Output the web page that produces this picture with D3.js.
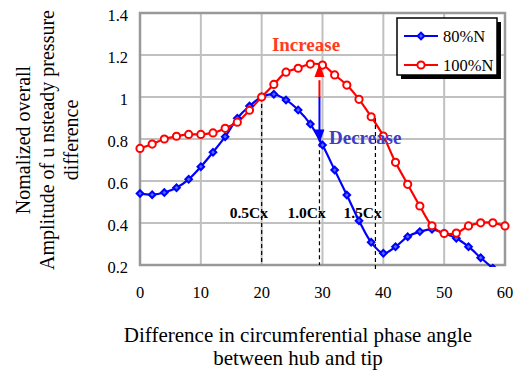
<!DOCTYPE html>
<html>
<head>
<meta charset="utf-8">
<script src="https://cdn.jsdelivr.net/npm/d3@7"></script>
<style>
  body { margin: 0; background: #fff; }
  svg text { font-family: 'Liberation Serif', 'Times New Roman', 'DejaVu Serif', serif; }
</style>
</head>
<body>
<script>
// phase angle difference (x) and the two speed lines
const angles = [0, 2, 4, 6, 8, 10, 12, 14, 16, 18, 20, 22, 24, 26, 28, 30,
  32, 34, 36, 38, 40, 42, 44, 46, 48, 50, 52, 54, 56, 58, 60];
const n80 = [0.54, 0.535, 0.545, 0.568, 0.608, 0.668, 0.737, 0.811, 0.899, 0.957, 1.0,
  1.013, 0.986, 0.938, 0.871, 0.771, 0.652, 0.533, 0.411, 0.308, 0.256,
  0.287, 0.335, 0.359, 0.37, 0.351, 0.327, 0.287, 0.235, 0.185, 0.14];
const n100 = [0.755, 0.776, 0.80, 0.813, 0.822, 0.822, 0.829, 0.851, 0.88, 0.937, 1.0,
  1.06, 1.118, 1.137, 1.157, 1.152, 1.105, 1.057, 0.989, 0.906, 0.814,
  0.689, 0.584, 0.481, 0.387, 0.35, 0.352, 0.386, 0.401, 0.401, 0.386];
const xTicks = [0, 10, 20, 30, 40, 50, 60];
const yTicks = [0.2, 0.4, 0.6, 0.8, 1, 1.2, 1.4];
// chord-position markers: label, x, top of dashed line
const cxLabels = ["0.5Cx", "1.0Cx", "1.5Cx"];
const cxAt = [20, 29.5, 38.7];
const cxTop = [1.0, 0.78, 0.9];

const width = 518, height = 370;
const margin = {left: 140, right: 13, top: 13, bottom: 105};
const serif = "'Liberation Serif', 'Times New Roman', 'DejaVu Serif', serif";

const svg = d3.select('body').append('svg')
  .attr('width', width)
  .attr('height', height)
  .attr('font-family', serif);

const x = d3.scaleLinear().domain([0, 60]).range([margin.left, width - margin.right]);
const y = d3.scaleLinear().domain([0.2, 1.4]).range([height - margin.bottom, margin.top]);

svg.append('defs').append('clipPath').attr('id', 'plotclip')
  .append('rect')
  .attr('x', x(0) - 6).attr('y', y(1.4) - 6)
  .attr('width', x(60) - x(0) + 12).attr('height', y(0.2) - y(1.4) + 8);

// grid
const grid = svg.append('g').attr('stroke', '#c0c0c0').attr('stroke-width', 2);
grid.selectAll('.gx').data(xTicks).join('line')
  .attr('x1', d => x(d)).attr('x2', d => x(d))
  .attr('y1', y(0.2)).attr('y2', y(1.4));
grid.selectAll('.gy').data(yTicks).join('line')
  .attr('x1', x(0)).attr('x2', x(60))
  .attr('y1', d => y(d)).attr('y2', d => y(d));

svg.append('rect')
  .attr('x', x(0)).attr('y', y(1.4))
  .attr('width', x(60) - x(0)).attr('height', y(0.2) - y(1.4))
  .attr('fill', 'none').attr('stroke', '#999').attr('stroke-width', 2.5);

// tick labels
svg.selectAll('.yt').data(yTicks).join('text')
  .attr('x', x(0) - 12).attr('y', d => y(d) + 8)
  .attr('text-anchor', 'end').attr('font-size', 16.5)
  .text(d => d);
svg.selectAll('.xt').data(xTicks).join('text')
  .attr('x', d => x(d)).attr('y', y(0.2) + 33)
  .attr('text-anchor', 'middle').attr('font-size', 16.5)
  .text(d => d);

// dashed chord lines
svg.selectAll('.cx').data(cxAt).join('line')
  .attr('x1', d => x(d)).attr('x2', d => x(d))
  .attr('y1', (d, i) => y(cxTop[i]))
  .attr('y2', (d, i) => i === 2 ? y(0.2) + 7 : y(0.2))
  .attr('stroke', '#000').attr('stroke-width', 1.2)
  .attr('stroke-dasharray', '4,3');
svg.selectAll('.cxl').data(cxLabels).join('text')
  .attr('x', (d, i) => x(cxAt[i]) - 32)
  .attr('y', 218)
  .attr('font-size', 15.5).attr('font-weight', 'bold')
  .text(d => d);

// series
const line = d3.line().x((d, i) => x(angles[i])).y(d => y(d)).curve(d3.curveCatmullRom);
const plot = svg.append('g').attr('clip-path', 'url(#plotclip)');

plot.append('path').datum(n80)
  .attr('d', line).attr('fill', 'none').attr('stroke', '#0000ff').attr('stroke-width', 2.2);
plot.append('path').datum(n100)
  .attr('d', line).attr('fill', 'none').attr('stroke', '#ff0000').attr('stroke-width', 2.2);

const diamond = d3.symbol().type(d3.symbolSquare).size(22);
plot.selectAll('.m80').data(n80).join('path')
  .attr('d', diamond)
  .attr('transform', (d, i) => `translate(${x(angles[i])},${y(d)}) rotate(45)`)
  .attr('fill', '#4d6bff').attr('stroke', '#0000ff').attr('stroke-width', 2);
plot.selectAll('.m100').data(n100).join('circle')
  .attr('cx', (d, i) => x(angles[i])).attr('cy', d => y(d)).attr('r', 3.6)
  .attr('fill', '#fff').attr('stroke', '#ff0000').attr('stroke-width', 2);

// increase / decrease arrow
const ax = x(29.5);
svg.append('line').attr('x1', ax).attr('x2', ax)
  .attr('y1', y(1.0)).attr('y2', y(1.08))
  .attr('stroke', '#ff0000').attr('stroke-width', 2);
svg.append('path')
  .attr('d', `M${ax},${y(1.16)}L${ax - 5},${y(1.095)}L${ax + 5},${y(1.095)}Z`)
  .attr('fill', '#ff0000');
svg.append('line').attr('x1', ax).attr('x2', ax)
  .attr('y1', y(1.0)).attr('y2', y(0.84))
  .attr('stroke', '#0000ff').attr('stroke-width', 2);
svg.append('path')
  .attr('d', `M${ax},${y(0.78)}L${ax - 5},${y(0.845)}L${ax + 5},${y(0.845)}Z`)
  .attr('fill', '#0000ff');

svg.append('text').attr('x', 306).attr('y', 51)
  .attr('text-anchor', 'middle').attr('font-size', 19).attr('font-weight', 'bold')
  .attr('fill', '#ff3c1e').text('Increase');
svg.append('text').attr('x', 329).attr('y', 144)
  .attr('font-size', 19).attr('font-weight', 'bold')
  .attr('fill', '#3c3cc8').text('Decrease');

// legend
const leg = svg.append('g');
leg.append('rect').attr('x', 401).attr('y', 22).attr('width', 100).attr('height', 57).attr('fill', '#000');
leg.append('rect').attr('x', 397).attr('y', 18).attr('width', 100).attr('height', 57)
  .attr('fill', '#fff').attr('stroke', '#000').attr('stroke-width', 1.5);
const legItems = [{name: '80%N', color: '#0000ff', y: 36}, {name: '100%N', color: '#ff0000', y: 65}];
legItems.forEach((d, i) => {
  leg.append('line').attr('x1', 404).attr('x2', 438).attr('y1', d.y).attr('y2', d.y)
    .attr('stroke', d.color).attr('stroke-width', 2.2);
  if (i === 0) {
    leg.append('path').attr('d', diamond).attr('transform', `translate(421,${d.y}) rotate(45)`)
      .attr('fill', '#4d6bff').attr('stroke', '#0000ff').attr('stroke-width', 2);
  } else {
    leg.append('circle').attr('cx', 421).attr('cy', d.y).attr('r', 3.6)
      .attr('fill', '#fff').attr('stroke', '#ff0000').attr('stroke-width', 2);
  }
  leg.append('text').attr('x', 443).attr('y', d.y + 6).attr('font-size', 16.5).text(d.name);
});

// axis titles
svg.append('text').attr('text-anchor', 'middle').attr('font-size', 21)
  .selectAll('tspan')
  .data(['Difference in circumferential phase angle', 'between hub and tip'])
  .join('tspan')
  .attr('x', 298).attr('y', (d, i) => 342 + i * 23)
  .text(d => d);

svg.append('text').attr('text-anchor', 'middle').attr('font-size', 20)
  .attr('transform', 'translate(0,140) rotate(-90)')
  .selectAll('tspan')
  .data(['Nomalized overall', 'Amplitude of u nsteady pressure', 'difference'])
  .join('tspan')
  .attr('x', 0).attr('y', (d, i) => 30 + i * 24)
  .text(d => d);
</script>
</body>
</html>
